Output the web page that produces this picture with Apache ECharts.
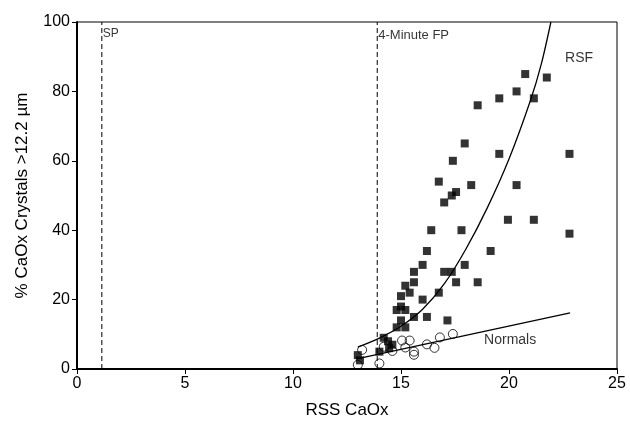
<!DOCTYPE html>
<html>
<head>
<meta charset="utf-8">
<script src="https://cdn.jsdelivr.net/npm/echarts@6/dist/echarts.min.js"></script>
<style>html,body{margin:0;padding:0;background:#fff}#c{width:630px;height:428px}</style>
</head>
<body>
<div id="c"></div>
<script>
// RSF (filled squares): [RSS CaOx, % crystals]
const rsfPoints = [
  [13.0,4],[13.1,2.5],[14.0,5],[14.2,9],[14.4,8],[14.45,6],[14.6,7],[14.8,12],[14.8,17],
  [15.0,14],[15.0,18],[15.0,21],[15.2,12],[15.2,17],[15.2,24],[15.4,22],[15.6,15],[15.6,25],
  [15.6,28],[16.0,20],[16.0,30],[16.2,15],[16.2,34],[16.4,40],[16.75,22],[16.75,54],[17.0,28],
  [17.0,48],[17.15,14],[17.35,28],[17.35,50],[17.4,60],[17.55,25],[17.55,51],[17.8,40],
  [17.95,30],[17.95,65],[18.25,53],[18.55,25],[18.55,76],[19.15,34],[19.55,62],[19.55,78],
  [19.95,43],[20.35,53],[20.35,80],[20.75,85],[21.15,43],[21.15,78],[21.75,84],[22.8,62],[22.8,39]
];
// Normals (open circles)
const normalPoints = [
  [13.0,1.2],[13.2,5.5],[14.0,1.6],[14.2,6.4],[14.6,5.2],[15.05,8.2],[15.4,8.2],[15.2,6.2],
  [15.6,5.0],[15.6,4.1],[16.2,7.1],[16.55,6.1],[16.8,9.1],[17.4,10.1]
];
// Fitted curves
const rsfCurve = [
  [13.0,6.3],[14.0,8.9],[15.0,12.3],[16.0,17.2],[17.0,24.5],[18.0,34.5],
  [19.0,46.5],[20.0,60.5],[21.0,77.5],[21.5,88],[21.94,100]
];
const normalLine = [[12.95,2.9],[22.83,16.2]];
// Reference lines
const spX = 1.15;
const fpX = 13.9;

const font = 'Liberation Sans, Arial, sans-serif';
const chart = echarts.init(document.getElementById('c'));
chart.setOption({
  animation: false,
  grid: {left: 77, right: 13, top: 22, bottom: 59, show: true, borderColor: '#000', borderWidth: 1},
  xAxis: {
    type: 'value', min: 0, max: 25, interval: 5,
    name: 'RSS CaOx', nameLocation: 'middle', nameGap: 33,
    nameTextStyle: {fontFamily: font, fontSize: 17, color: '#000'},
    axisLine: {onZero: false, lineStyle: {color: '#000', width: 2}},
    axisTick: {length: 5, lineStyle: {color: '#000', width: 1}},
    axisLabel: {fontFamily: font, fontSize: 16, color: '#000', margin: 7},
    splitLine: {show: false}
  },
  yAxis: {
    type: 'value', min: 0, max: 100, interval: 20,
    name: '% CaOx Crystals >12.2 µm', nameLocation: 'middle', nameGap: 46,
    nameTextStyle: {fontFamily: font, fontSize: 17, color: '#000'},
    axisLine: {onZero: false, lineStyle: {color: '#000', width: 2}},
    axisTick: {length: 5, lineStyle: {color: '#000', width: 1}},
    axisLabel: {fontFamily: font, fontSize: 16, color: '#000', margin: 7},
    splitLine: {show: false}
  },
  series: [
    {type: 'line', data: [[spX,0],[spX,100]], symbol: 'none', silent: true,
     lineStyle: {color: '#000', width: 1, type: [5,3]}},
    {type: 'line', data: [[fpX,0],[fpX,100]], symbol: 'none', silent: true,
     lineStyle: {color: '#000', width: 1, type: [5,3]}},
    {type: 'line', data: rsfCurve, symbol: 'none', smooth: 0.3,
     lineStyle: {color: '#000', width: 1.3}},
    {type: 'line', data: normalLine, symbol: 'none', lineStyle: {color: '#000', width: 1.3}},
    {type: 'scatter', data: normalPoints, symbol: 'circle', symbolSize: 9,
     itemStyle: {color: 'rgba(255,255,255,0)', borderColor: '#000', borderWidth: 1}},
    {type: 'scatter', data: rsfPoints, symbol: 'rect', symbolSize: 8,
     itemStyle: {color: '#000'}},
    {type: 'scatter', symbolSize: 0, silent: true,
     data: [
       {value: [spX, 96.5], label: {formatter: 'SP', fontSize: 12}},
       {value: [fpX, 96], label: {formatter: '4-Minute FP', fontSize: 13}},
       {value: [22.55, 89.5], label: {formatter: 'RSF', fontSize: 14}},
       {value: [18.8, 8.3], label: {formatter: 'Normals', fontSize: 14}}
     ],
     label: {show: true, position: 'right', distance: 1, fontFamily: font, color: '#000'}}
  ]
});
</script>
</body>
</html>
